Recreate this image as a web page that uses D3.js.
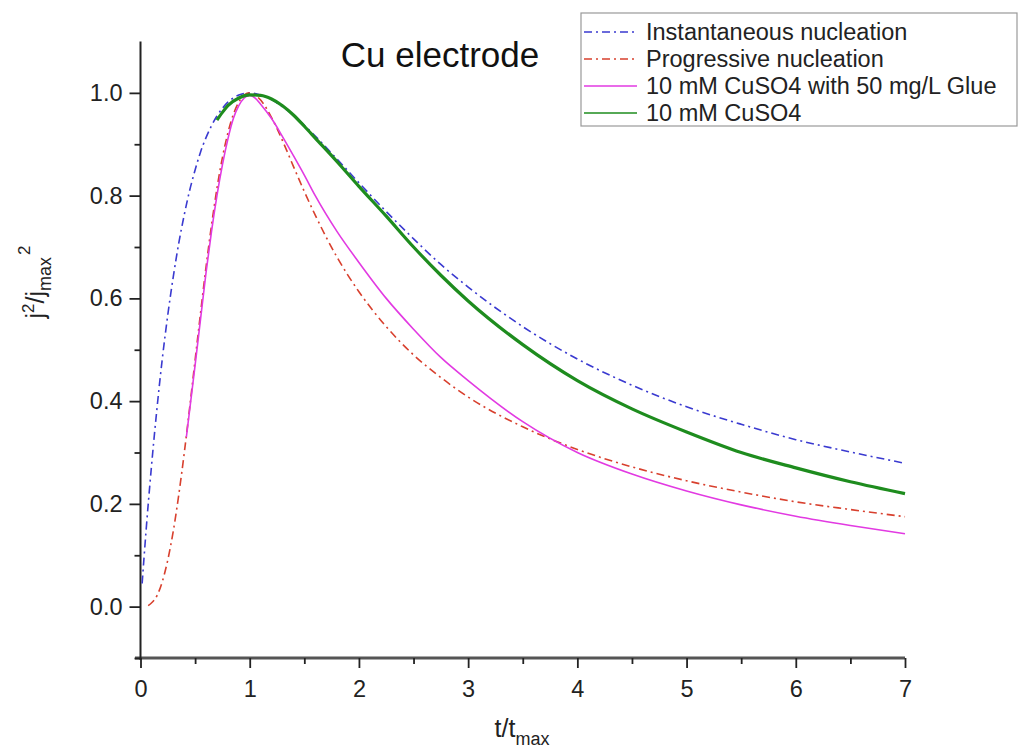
<!DOCTYPE html>
<html><head><meta charset="utf-8">
<script src="https://cdn.jsdelivr.net/npm/d3@7"></script>
<style>
html,body{margin:0;padding:0;background:#fff;}
text{font-family:"Liberation Sans",Arial,sans-serif;}
</style></head>
<body>
<svg id="c" width="1019" height="756"></svg>
<script>
// ---- data ----
const tInst = [0.015,0.05,0.1,0.15,0.2,0.25,0.3,0.35,0.4,0.45,0.5,0.55,0.6,0.65,0.7,0.75,0.8,0.85,0.9,0.95,1.0,1.1,1.2,1.3,1.4,1.5,1.6,1.8,2.0,2.25,2.5,2.75,3.0,3.5,4.0,4.5,5.0,5.5,6.0,6.5,7.0];
const vInst = [0.045,0.145,0.272,0.384,0.483,0.568,0.642,0.707,0.762,0.810,0.850,0.885,0.913,0.936,0.955,0.970,0.982,0.990,0.996,0.999,1.000,0.996,0.987,0.973,0.957,0.937,0.916,0.871,0.825,0.769,0.716,0.666,0.622,0.545,0.482,0.431,0.389,0.355,0.325,0.301,0.279];
const tProg = [0.07,0.1,0.15,0.2,0.25,0.3,0.35,0.4,0.45,0.5,0.55,0.6,0.65,0.7,0.75,0.8,0.85,0.9,0.95,1.0,1.1,1.2,1.3,1.4,1.5,1.6,1.8,2.0,2.25,2.5,2.75,3.0,3.5,4.0,4.5,5.0,5.5,6.0,6.5,7.0];
const vProg = [0.002,0.007,0.021,0.049,0.091,0.147,0.217,0.298,0.387,0.480,0.572,0.661,0.742,0.814,0.874,0.922,0.958,0.982,0.996,1.000,0.986,0.952,0.907,0.857,0.808,0.762,0.680,0.613,0.545,0.490,0.446,0.408,0.350,0.306,0.272,0.245,0.223,0.204,0.189,0.175];
const tGlue = [0.42,0.5,0.55,0.6,0.65,0.7,0.75,0.8,0.85,0.9,0.95,1.0,1.05,1.1,1.2,1.3,1.4,1.5,1.6,1.8,2.0,2.25,2.5,2.75,3.0,3.5,4.0,4.5,5.0,5.5,6.0,6.5,7.0];
const vGlue = [0.33,0.47,0.56,0.65,0.73,0.80,0.86,0.91,0.95,0.975,0.99,0.995,0.99,0.978,0.95,0.915,0.878,0.84,0.80,0.73,0.67,0.60,0.54,0.485,0.44,0.36,0.30,0.258,0.225,0.198,0.176,0.158,0.142];
const tCu = [0.70,0.75,0.8,0.9,1.0,1.1,1.2,1.3,1.4,1.5,1.6,1.8,2.0,2.25,2.5,2.75,3.0,3.5,4.0,4.5,5.0,5.5,6.0,6.5,7.0];
const vCu = [0.947,0.962,0.975,0.99,0.996,0.995,0.988,0.975,0.957,0.935,0.912,0.866,0.818,0.76,0.70,0.645,0.595,0.51,0.44,0.385,0.34,0.30,0.27,0.243,0.22];
const xTicks = [0,1,2,3,4,5,6,7];
const yTicks = [0.0,0.2,0.4,0.6,0.8,1.0];
const seriesNames = ["Instantaneous nucleation","Progressive nucleation","10 mM CuSO4 with 50 mg/L Glue","10 mM CuSO4"];
const titleText = "Cu electrode";

// ---- chart ----
const svg = d3.select("#c");
const x = d3.scaleLinear().domain([0,7]).range([140.5,905]);
const y = d3.scaleLinear().domain([-0.1,1.1]).range([658,41.5]);

const styles = [
  {color:"#3a3ad0", width:1.6, dash:"8,4,2,4"},
  {color:"#d8402e", width:1.6, dash:"8,4,2,4"},
  {color:"#e23ae2", width:1.6, dash:null},
  {color:"#1e8c1e", width:3.2, dash:null}
];
const series = [
  d3.zip(tInst,vInst), d3.zip(tProg,vProg), d3.zip(tGlue,vGlue), d3.zip(tCu,vCu)
];
const line = d3.line().x(d=>x(d[0])).y(d=>y(d[1])).curve(d3.curveMonotoneX);

// axes
const xAxis = svg.append("g").attr("transform","translate(0,658)")
  .call(d3.axisBottom(x).tickValues(xTicks).tickFormat(d3.format("d")).tickSize(10).tickSizeOuter(0));
const xMinor = svg.append("g").attr("transform","translate(0,658)")
  .call(d3.axisBottom(x).tickValues(d3.range(0.5,7,1)).tickFormat("").tickSize(6).tickSizeOuter(0));
const yAxis = svg.append("g").attr("transform","translate(140.5,0)")
  .call(d3.axisLeft(y).tickValues(yTicks).tickFormat(d3.format(".1f")).tickSize(11).tickSizeOuter(0));
const yMinor = svg.append("g").attr("transform","translate(140.5,0)")
  .call(d3.axisLeft(y).tickValues([-0.1,0.1,0.3,0.5,0.7,0.9]).tickFormat("").tickSize(6).tickSizeOuter(0));

[xAxis,xMinor,yAxis,yMinor].forEach(g=>{
  g.selectAll("path").attr("stroke","#222").attr("stroke-width",2);
  g.selectAll("line").attr("stroke","#222").attr("stroke-width",1.8);
  g.selectAll("text").attr("font-size",23.5).attr("fill","#222")
    .attr("font-family","'Liberation Sans',Arial,sans-serif");
});
xMinor.select("path").remove(); yMinor.select("path").remove();
xAxis.select("path").attr("stroke","#555").attr("stroke-width",3).attr("d","M135,0H905");
yAxis.select("path").attr("d","M0,41.5V660");
xAxis.selectAll("text").attr("dy","1.1em");
yAxis.selectAll("text").attr("dx","-4");

// series
series.forEach((d,i)=>{
  const p = svg.append("path").datum(d).attr("d",line)
    .attr("fill","none").attr("stroke",styles[i].color)
    .attr("stroke-width",styles[i].width).attr("stroke-linejoin","round");
  if(styles[i].dash) p.attr("stroke-dasharray",styles[i].dash);
});

// title
svg.append("text").attr("x",440).attr("y",67).attr("text-anchor","middle")
  .attr("font-size",35).attr("fill","#111").text(titleText);

// x label
const xl = svg.append("text").attr("x",522).attr("y",737).attr("text-anchor","middle")
  .attr("font-size",25).attr("fill","#222");
xl.append("tspan").text("t/t");
xl.append("tspan").attr("font-size",18).attr("dy",8).text("max");

// y label
const yl = svg.append("text").attr("transform","translate(44,282) rotate(-90)")
  .attr("text-anchor","middle").attr("font-size",25).attr("fill","#222");
yl.append("tspan").text("j");
yl.append("tspan").attr("font-size",17).attr("dy",-10).text("2");
yl.append("tspan").attr("dy",10).text("/j");
yl.append("tspan").attr("font-size",18).attr("dy",7).text("max");
yl.append("tspan").attr("font-size",17).attr("dy",-21).attr("dx",2).text("2");

// legend
const lg = svg.append("g");
lg.append("rect").attr("x",581).attr("y",13).attr("width",436).attr("height",113)
  .attr("fill","#fff").attr("stroke","#999").attr("stroke-width",1.2);
seriesNames.forEach((n,i)=>{
  const yy = 32 + i*27;
  const l = lg.append("line").attr("x1",584).attr("x2",637).attr("y1",yy).attr("y2",yy)
    .attr("stroke",styles[i].color).attr("stroke-width",1.5);
  if(styles[i].dash) l.attr("stroke-dasharray",styles[i].dash);
  lg.append("text").attr("x",646).attr("y",yy+8).attr("font-size",23.5).attr("fill","#222").text(n);
});
</script>
</body></html>
